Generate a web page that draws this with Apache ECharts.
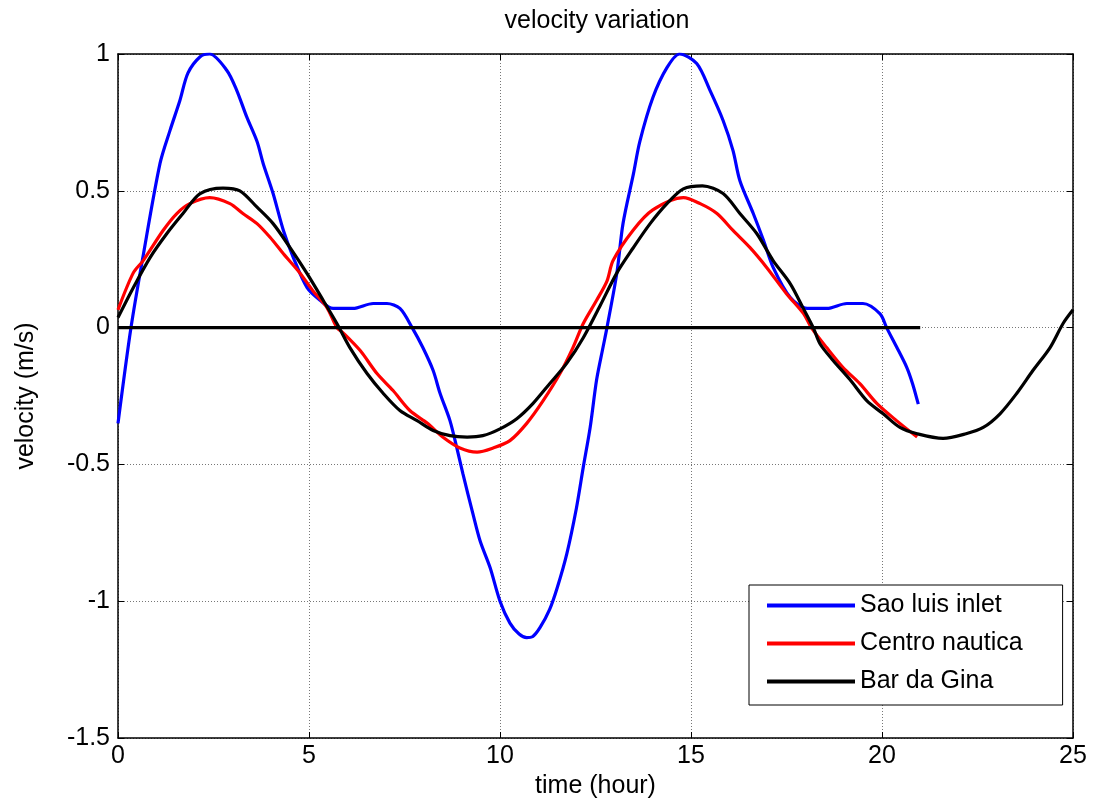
<!DOCTYPE html>
<html>
<head>
<meta charset="utf-8">
<title>velocity variation</title>
<script src="https://cdn.jsdelivr.net/npm/echarts@6/dist/echarts.min.js"></script>
<style>
  html, body { margin: 0; padding: 0; background: #fff; }
  #main { width: 1093px; height: 805px; }
</style>
</head>
<body>
<div id="main"></div>
<script>
// series names (legend order)
const seriesNames = ["Sao luis inlet", "Centro nautica", "Bar da Gina"];

// time (hour), velocity (m/s)
const saoLuis = [
  [0, -0.35], [0.34, 0], [0.65, 0.256], [1.1, 0.6], [1.36, 0.72], [1.62, 0.83], [1.83, 0.93],
  [2.15, 0.99], [2.4, 1.0], [2.85, 0.94], [3.1, 0.87], [3.37, 0.77], [3.64, 0.68], [3.8, 0.6],
  [4.06, 0.49], [4.33, 0.355], [4.59, 0.256], [4.95, 0.146], [5.29, 0.1], [5.63, 0.07],
  [6.15, 0.07], [6.68, 0.088], [7.04, 0.088], [7.38, 0.07], [7.7, 0.0], [7.98, -0.073],
  [8.25, -0.157], [8.43, -0.24], [8.69, -0.34], [8.87, -0.44], [9.03, -0.535], [9.29, -0.68],
  [9.48, -0.78], [9.74, -0.877], [10.0, -1.0], [10.26, -1.08], [10.5, -1.12], [10.7, -1.133],
  [10.85, -1.13], [11.05, -1.096], [11.3, -1.03], [11.5, -0.95], [11.75, -0.826], [12.0, -0.66],
  [12.18, -0.51], [12.36, -0.365], [12.53, -0.19], [12.7, -0.07], [12.8, 0], [13.06, 0.2],
  [13.22, 0.38], [13.49, 0.56], [13.66, 0.68], [14.0, 0.84], [14.37, 0.95], [14.7, 1.0],
  [15.15, 0.965], [15.5, 0.866], [15.84, 0.757], [16.1, 0.647], [16.28, 0.537], [16.63, 0.417],
  [16.9, 0.318], [17.15, 0.22], [17.6, 0.11], [18.04, 0.07], [18.56, 0.07], [19.08, 0.088],
  [19.5, 0.088], [19.95, 0.05], [20.12, 0], [20.38, -0.07], [20.65, -0.146], [20.8, -0.205],
  [20.95, -0.28]
];

const centroNautica = [
  [0, 0.065], [0.4, 0.2], [0.66, 0.245], [1.18, 0.355], [1.54, 0.417], [1.88, 0.453],
  [2.4, 0.475], [2.93, 0.453], [3.27, 0.417], [3.64, 0.38], [3.98, 0.33], [4.33, 0.27],
  [4.76, 0.2], [5.1, 0.135], [5.47, 0.073], [5.73, 0], [5.9, -0.02], [6.34, -0.084],
  [6.78, -0.168], [7.2, -0.23], [7.64, -0.303], [8.1, -0.35], [8.5, -0.4], [8.95, -0.44],
  [9.4, -0.455], [9.82, -0.44], [10.26, -0.413], [10.7, -0.35], [11.13, -0.267], [11.57, -0.168],
  [11.91, -0.073], [12.18, 0.015], [12.53, 0.1], [12.8, 0.17], [12.96, 0.245], [13.48, 0.355],
  [14.0, 0.43], [14.8, 0.475], [15.24, 0.453], [15.68, 0.417], [16.1, 0.355], [16.54, 0.293],
  [16.98, 0.22], [17.5, 0.124], [17.95, 0.05], [18.15, 0], [18.55, -0.073], [18.98, -0.146],
  [19.42, -0.205], [19.87, -0.278], [20.38, -0.34], [20.92, -0.4]
];

const barDaGina = [
  [0, 0.037], [0.4, 0.146], [0.84, 0.256], [1.28, 0.344], [1.7, 0.417], [2.15, 0.49],
  [2.75, 0.51], [3.19, 0.5], [3.64, 0.44], [4.06, 0.38], [4.5, 0.293], [4.95, 0.197],
  [5.37, 0.1], [5.73, 0.015], [6.07, -0.073], [6.52, -0.168], [6.94, -0.24], [7.38, -0.303],
  [7.83, -0.34], [8.25, -0.376], [8.69, -0.395], [9.14, -0.4], [9.55, -0.395], [10.0, -0.37],
  [10.44, -0.333], [10.86, -0.278], [11.3, -0.205], [11.75, -0.13], [12.18, -0.037],
  [12.62, 0.08], [13.06, 0.2], [13.48, 0.29], [13.93, 0.38], [14.37, 0.453], [14.8, 0.507],
  [15.3, 0.518], [15.84, 0.49], [16.28, 0.417], [16.72, 0.344], [17.15, 0.245], [17.6, 0.16],
  [17.93, 0.073], [18.2, 0], [18.38, -0.06], [18.72, -0.12], [19.16, -0.19], [19.6, -0.267],
  [20.03, -0.315], [20.47, -0.365], [20.92, -0.388], [21.6, -0.405], [22.2, -0.388],
  [22.65, -0.365], [23.09, -0.315], [23.53, -0.24], [23.95, -0.157], [24.4, -0.073],
  [24.74, 0.015], [25, 0.065]
];

// reference line at zero
const zeroLine = [[0, 0], [21, 0]];

const colors = ["#0000ff", "#ff0000", "#000000"];
const font = "'Liberation Sans', Arial, sans-serif";
const fs = 25;

const chart = echarts.init(document.getElementById("main"));

const dotted = { show: true, lineStyle: { color: "#777", width: 1, type: [1, 2] } };
const tickIn = { show: true, inside: true, length: 6, lineStyle: { color: "#000", width: 1 } };
const boxLine = { show: true, onZero: false, lineStyle: { color: "#000", width: 1.5 } };

const option = {
  animation: false,
  backgroundColor: "#fff",
  textStyle: { fontFamily: font, color: "#000" },
  title: {
    text: "velocity variation",
    left: 592,
    top: 4,
    textAlign: "center",
    textStyle: { fontFamily: font, fontSize: fs, fontWeight: "normal", color: "#000" }
  },
  grid: { left: 118, top: 54, right: 20, bottom: 67 },
  legend: {
    data: seriesNames.map((n) => ({ name: n, icon: "rect" })),
    orient: "vertical",
    left: 749,
    top: 585,
    itemWidth: 88,
    itemHeight: 4,
    itemGap: 13,
    padding: [8, 40, 11, 18],
    borderColor: "#000",
    borderWidth: 1,
    backgroundColor: "#fff",
    textStyle: { fontFamily: font, fontSize: fs, color: "#000" }
  },
  xAxis: [
    {
      type: "value",
      min: 0,
      max: 25,
      interval: 5,
      name: "time (hour)",
      nameLocation: "middle",
      nameGap: 33,
      nameTextStyle: { fontFamily: font, fontSize: fs, color: "#000" },
      axisLine: boxLine,
      axisTick: tickIn,
      axisLabel: { margin: 6, fontFamily: font, fontSize: fs, color: "#000" },
      splitLine: dotted
    },
    {
      type: "value",
      position: "top",
      min: 0,
      max: 25,
      interval: 5,
      axisLine: boxLine,
      axisTick: tickIn,
      axisLabel: { show: false },
      splitLine: { show: false }
    }
  ],
  yAxis: [
    {
      type: "value",
      min: -1.5,
      max: 1,
      interval: 0.5,
      name: "velocity (m/s)",
      nameLocation: "middle",
      nameGap: 79,
      nameTextStyle: { fontFamily: font, fontSize: fs, color: "#000" },
      axisLine: boxLine,
      axisTick: tickIn,
      axisLabel: { margin: 8, fontFamily: font, fontSize: fs, color: "#000" },
      splitLine: dotted
    },
    {
      type: "value",
      position: "right",
      min: -1.5,
      max: 1,
      interval: 0.5,
      axisLine: boxLine,
      axisTick: tickIn,
      axisLabel: { show: false },
      splitLine: { show: false }
    }
  ],
  series: [
    { name: seriesNames[0], data: saoLuis, color: colors[0] },
    { name: seriesNames[1], data: centroNautica, color: colors[1] },
    { name: seriesNames[2], data: barDaGina, color: colors[2] },
    { name: "zero", data: zeroLine, color: "#000", smooth: false }
  ].map((s) => Object.assign({
    type: "line",
    xAxisIndex: 0,
    yAxisIndex: 0,
    showSymbol: false,
    symbol: "none",
    smooth: 0.3,
    lineStyle: { width: 3.2, color: s.color },
    itemStyle: { color: s.color },
    emphasis: { disabled: true }
  }, s))
};

chart.setOption(option);
</script>
</body>
</html>
